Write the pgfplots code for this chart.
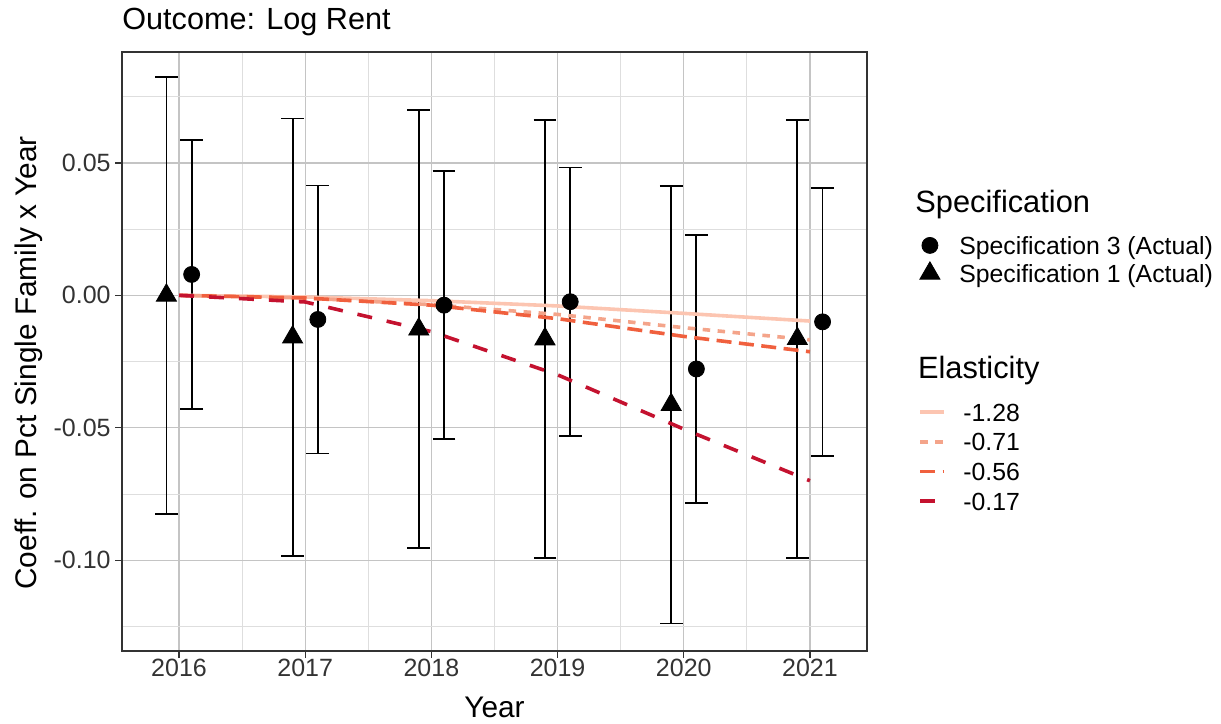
\documentclass[border=0pt]{standalone}
\usepackage{pgfplots}
\usepackage{pgfplotstable}
\pgfplotsset{compat=1.18}
\usepackage{fontspec}
\setmainfont{Liberation Sans}

\definecolor{elA}{HTML}{FCC5B1}
\definecolor{elB}{HTML}{F4A48A}
\definecolor{elC}{HTML}{F0603E}
\definecolor{elD}{HTML}{C4122F}
\definecolor{axisgray}{HTML}{333333}
\definecolor{gridmaj}{HTML}{C4C4C4}
\definecolor{gridmin}{HTML}{DEDEDE}

% Specification 1: estimate and half-width of the 95% interval
\pgfplotstableread{
x       y        e
2015.9  0.0000   0.0826
2016.9  -0.0158  0.0826
2017.9  -0.0128  0.0827
2018.9  -0.0165  0.0827
2019.9  -0.0413  0.0826
2020.9  -0.0164  0.0827
}\specone

% Specification 3: estimate and half-width of the 95% interval
\pgfplotstableread{
x       y        e
2016.1  0.0079   0.0507
2017.1  -0.0091  0.0506
2018.1  -0.0037  0.0506
2019.1  -0.0024  0.0507
2020.1  -0.0278  0.0506
2021.1  -0.0100  0.0506
}\specthree

\pgfplotsset{
  panel/.style={
    at={(61pt,36pt)}, anchor=south west,
    width=372.5pt, height=299.5pt, scale only axis,
    xmin=2015.548, xmax=2021.452, ymin=-0.1343, ymax=0.0919,
  },
  legendtext/.style={font=\fontsize{12.4}{14}\selectfont},
}

\begin{document}
\begin{tikzpicture}
\useasboundingbox (0,0) rectangle (610.5pt,361.5pt);

\begin{axis}[panel,
  axis line style={axisgray, line width=0.75pt},
  tick align=outside, xtick pos=bottom, ytick pos=left,
  major tick length=3.5pt, minor tick length=0pt,
  tick style={axisgray, line width=0.6pt},
  xtick={2016,2017,2018,2019,2020,2021},
  xticklabels={2016,2017,2018,2019,2020,2021},
  ytick={-0.10,-0.05,0,0.05},
  yticklabels={-0.10,-0.05,0.00,0.05},
  minor xtick={2016.5,2017.5,2018.5,2019.5,2020.5},
  minor ytick={-0.125,-0.075,-0.025,0.025,0.075},
  grid=both,
  major grid style={gridmaj, line width=0.55pt},
  minor grid style={gridmin, line width=0.45pt},
  ticklabel style={font=\fontsize{12.5}{14}\selectfont, text=axisgray},
  xticklabel style={anchor=base, inner sep=0pt, yshift=-9pt},
  yticklabel style={anchor=east, inner sep=0pt, xshift=-2pt},
  xlabel={Year},
  ylabel={Coeff. on Pct Single Family x Year},
  label style={font=\fontsize{14.9}{18}\selectfont},
  xlabel style={at={(axis description cs:0.5,-0.1102)}, anchor=base, inner sep=0pt},
  ylabel style={at={(axis description cs:-0.1141,0.4808)}, anchor=base, inner sep=0pt},
  legend cell align=left,
  legend style={
    at={(1.0685,0.4145)}, anchor=north west,
    draw=none, fill=none, inner xsep=0pt, inner ysep=0pt,
    column sep=8.7pt, row sep=5.83pt,
    legendtext,
    nodes={inner sep=0pt, text height=9pt, text depth=0pt},
  },
  legend image code/.code={
    \path[draw=none, fill=none] (0pt,-4.5pt) rectangle (12pt,4.5pt);
    \draw[#1] (0pt,0pt) -- (12pt,0pt);
  },
]

% estimates with their intervals
\addplot[forget plot, only marks, black, mark=triangle*, mark size=5.8pt,
  error bars/.cd, y dir=both, y explicit, error mark=|,
  error bar style={line width=0.9pt, black},
  error mark options={black, line width=0.9pt, mark size=5.7pt}]
  table[x=x, y=y, y error=e] {\specone};
\addplot[forget plot, only marks, black, mark=*, mark size=4pt,
  error bars/.cd, y dir=both, y explicit, error mark=|,
  error bar style={line width=0.9pt, black},
  error mark options={black, line width=0.9pt, mark size=5.7pt}]
  table[x=x, y=y, y error=e] {\specthree};

% implied paths for each elasticity
\addplot[elA, line width=1.8pt] coordinates {
  (2016,0) (2017,-0.0006) (2018,-0.0020) (2019,-0.0040) (2020,-0.0068) (2021,-0.0097)};
\addlegendentry{-1.28}
\addplot[elB, line width=1.8pt, dash pattern=on 3.75pt off 3.75pt] coordinates {
  (2016,0) (2017,-0.0010) (2018,-0.0035) (2019,-0.0072) (2020,-0.0122) (2021,-0.0168)};
\addlegendentry{-0.71}
\addplot[elC, line width=1.8pt, dash pattern=on 7.5pt off 3.75pt] coordinates {
  (2016,0) (2017,-0.0010) (2018,-0.0037) (2019,-0.0088) (2020,-0.0155) (2021,-0.0213)};
\addlegendentry{-0.56}
\addplot[elD, line width=1.8pt, dash pattern=on 7.5pt off 7.5pt] coordinates {
  (2016,0) (2017,-0.0025) (2018,-0.0137) (2019,-0.0300) (2020,-0.0505) (2021,-0.0700)};
\addlegendentry{-0.17}
\end{axis}

% second, empty axis that only carries the marker legend
\begin{axis}[panel, hide axis,
  legend cell align=left,
  legend style={
    at={(1.0611,0.6978)}, anchor=north west,
    draw=none, fill=none, inner xsep=0pt, inner ysep=0pt,
    column sep=6.2pt, row sep=2pt,
    legendtext,
    nodes={inner sep=0pt, text height=9pt, text depth=0pt},
  },
  legend image code/.code={
    \path[draw=none, fill=none] (0pt,-6pt) rectangle (17pt,6pt);
    \draw[#1] plot coordinates {(8.5pt,0pt)};
  },
]
\addlegendimage{black, only marks, mark=*, mark size=4pt}
\addlegendentry{Specification 3 (Actual)}
\addlegendimage{black, only marks, mark=triangle*, mark size=5.8pt}
\addlegendentry{Specification 1 (Actual)}
\end{axis}

\node[anchor=base west, inner sep=0pt, font=\fontsize{15.3}{18}\selectfont]
  at (61pt,346.75pt) {Outcome: Log Rent};
\node[anchor=base west, inner sep=0pt, font=\fontsize{15.4}{18}\selectfont]
  at (457.5pt,255.25pt) {Specification};
\node[anchor=base west, inner sep=0pt, font=\fontsize{15.4}{18}\selectfont]
  at (458.8pt,172pt) {Elasticity};
\end{tikzpicture}
\end{document}
